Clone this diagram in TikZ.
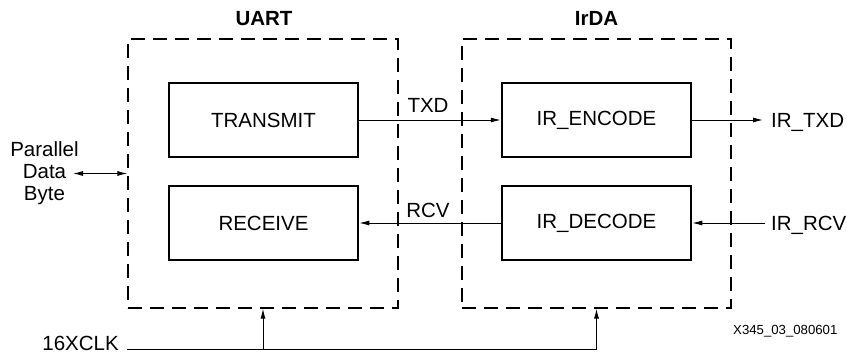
\documentclass[tikz,border=0pt]{standalone}
\usepackage{fontspec}
\setmainfont{Liberation Sans}
\usetikzlibrary{arrows.meta}
\begin{document}
\begin{tikzpicture}[x=1pt,y=-1pt,
  txt/.style={font=\fontsize{20.5}{22}\selectfont,inner sep=0pt},
  blk/.style={draw,line width=2.5pt,minimum width=189pt,minimum height=74pt,inner sep=0pt,font=\fontsize{20.5}{22}\selectfont},
  grp/.style={draw,line width=1.2pt,dash pattern=on 14pt off 8pt,minimum height=269pt,inner sep=0pt},
  title/.style={font=\bfseries\fontsize{20.5}{22}\selectfont,inner sep=0pt},
  arr/.style={line width=1pt,-{Latex[length=10pt,width=5pt]}},
  darr/.style={line width=1pt,{Latex[length=10pt,width=5pt]}-{Latex[length=10pt,width=5pt]}}]
\useasboundingbox (0,0) rectangle (847,356);
% groups
\node[grp,minimum width=270pt] (uart) at (263,173.5) {};
\node[grp,minimum width=269pt] (irda) at (596.5,173.5) {};
\node[title] (tuart) at (264,18.5) {UART};
\node[title] (tirda) at (596.5,18.5) {IrDA};
% blocks
\node[blk] (tx) at (263.5,120) {TRANSMIT};
\node[blk] (rx) at (263.5,223) {RECEIVE};
\node[blk] (enc) at (596.5,120) {IR\_ENCODE};
\node[blk] (dec) at (596.5,223) {IR\_DECODE};
% internal connectors
\draw[arr] (tx.east) -- (enc.west);
\node[txt] (ltxd) at (428,105) {TXD};
\draw[arr] (dec.west) -- (rx.east);
\node[txt] (lrcv) at (428,210) {RCV};
% external IR
\node[txt,anchor=west] (irtxd) at (771,122) {IR\_TXD};
\coordinate (txo) at (763,120);
\draw[arr] (enc.east) -- (txo);
\node[txt,anchor=west] (irrcv) at (771,225) {IR\_RCV};
\coordinate (rxi) at (765,223);
\draw[arr] (rxi) -- (dec.east);
% parallel data byte
\node[txt,align=center] (pdb) at (44.5,173.5) {Parallel\\[0pt]Data\\[0pt]Byte};
\coordinate (pl) at (73,173.5);
\draw[darr] (pl) -- (uart.west);
% clock
\node[txt,anchor=east] (clk) at (119,343) {16XCLK};
\coordinate (c0) at (127,349);
\draw[arr] (c0) -- (irda.south |- c0) -- (irda.south);
\draw[arr] (uart.south |- c0) -- (uart.south);
% figure id
\node[font=\fontsize{13.2}{15}\selectfont,inner sep=0pt,anchor=west] (fid) at (733,331) {X345\_03\_080601};
\end{tikzpicture}
\end{document}
